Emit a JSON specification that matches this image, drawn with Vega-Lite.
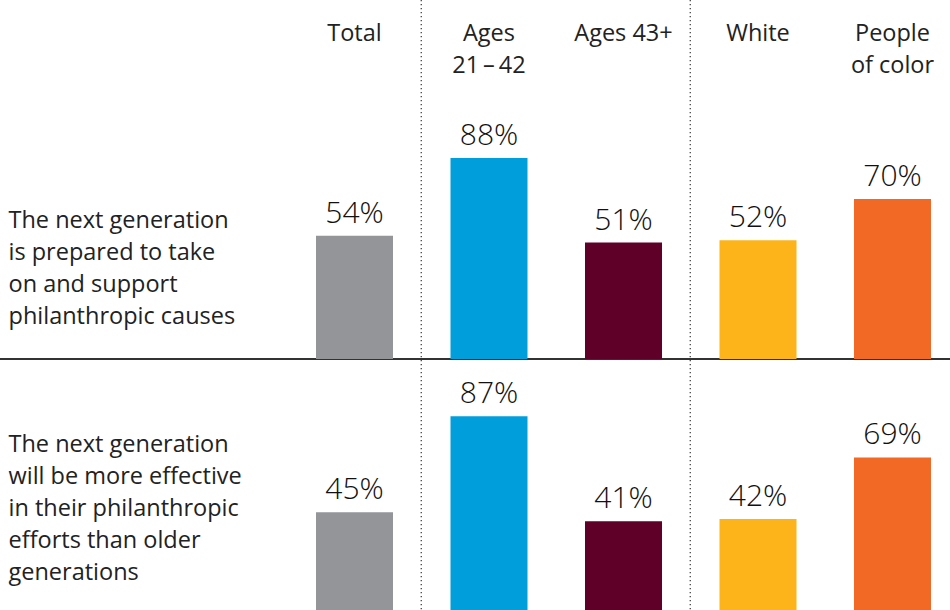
{
  "$schema": "https://vega.github.io/schema/vega-lite/v6.json",
  "width": 950,
  "height": 610,
  "padding": 0,
  "autosize": "none",
  "background": "white",
  "config": {"view": {"stroke": null}, "font": "Open Sans"},
  "datasets": {
    "bars": [
      {"statement": "prepared", "group": "Total", "share": 0.54},
      {"statement": "prepared", "group": "Ages 21 – 42", "share": 0.88},
      {"statement": "prepared", "group": "Ages 43+", "share": 0.51},
      {"statement": "prepared", "group": "White", "share": 0.52},
      {"statement": "prepared", "group": "People of color", "share": 0.70},
      {"statement": "effective", "group": "Total", "share": 0.45},
      {"statement": "effective", "group": "Ages 21 – 42", "share": 0.87},
      {"statement": "effective", "group": "Ages 43+", "share": 0.41},
      {"statement": "effective", "group": "White", "share": 0.42},
      {"statement": "effective", "group": "People of color", "share": 0.69}
    ],
    "separators": [
      {"group": "Total"},
      {"group": "Ages 43+"}
    ]
  },
  "layer": [
    {
      "data": {"name": "bars"},
      "transform": [{"filter": {"field": "statement", "equal": "prepared"}}],
      "mark": {"type": "rule", "color": "#333333", "strokeWidth": 1.3},
      "encoding": {
        "y": {"datum": 0, "type": "quantitative", "scale": {"domain": [-1.09895, 1.5718], "nice": false, "zero": false}, "axis": null}
      }
    },
    {
      "data": {"name": "separators"},
      "mark": {"type": "rule", "color": "#444444", "strokeWidth": 1.3, "strokeDash": [1.2, 2.8]},
      "encoding": {
        "x": {"field": "group", "type": "nominal", "bandPosition": 1.367, "axis": null}
      }
    },
    {
      "data": {"name": "bars"},
      "transform": [{"filter": {"field": "statement", "equal": "prepared"}}],
      "mark": {"type": "bar"},
      "encoding": {
        "x": {
          "field": "group",
          "type": "nominal",
          "scale": {
            "domain": ["Total", "Ages 21 – 42", "Ages 43+", "White", "People of color"],
            "range": [316, 931],
            "paddingInner": 0.4275,
            "paddingOuter": 0
          },
          "axis": {
            "orient": "top",
            "title": null,
            "domain": false,
            "ticks": false,
            "tickSize": 0,
            "labelAngle": 0,
            "labelBaseline": "top",
            "labelPadding": -21.7,
            "labelFont": "Open Sans",
            "labelFontSize": 23.5,
            "labelLineHeight": 32,
            "labelColor": "#222222",
            "labelLimit": 0,
            "labelExpr": "datum.label == 'Ages 21 – 42' ? ['Ages', '21\u2009–\u200942'] : datum.label == 'People of color' ? ['People', 'of color'] : datum.label"
          }
        },
        "y": {
          "field": "share",
          "type": "quantitative",
          "scale": {"domain": [-1.09895, 1.5718], "nice": false, "zero": false},
          "axis": {
            "orient": "left",
            "values": [0.6586],
            "title": null,
            "domain": false,
            "ticks": false,
            "tickSize": 0,
            "grid": false,
            "labelAlign": "left",
            "labelBaseline": "top",
            "labelPadding": -8,
            "labelFont": "Open Sans",
            "labelFontSize": 23.5,
            "labelLineHeight": 32,
            "labelColor": "#222222",
            "labelLimit": 0,
            "labelExpr": "['The next generation', 'is prepared to take', 'on and support', 'philanthropic causes']"
          }
        },
        "y2": {"datum": 0},
        "color": {
          "field": "group",
          "type": "nominal",
          "scale": {
            "domain": ["Total", "Ages 21 – 42", "Ages 43+", "White", "People of color"],
            "range": ["#939598", "#009EDB", "#5E0028", "#FDB41A", "#F26925"]
          },
          "legend": null
        }
      }
    },
    {
      "data": {"name": "bars"},
      "transform": [{"filter": {"field": "statement", "equal": "prepared"}}],
      "mark": {"type": "text", "baseline": "alphabetic", "dy": -13, "fontSize": 30, "fontWeight": 300, "color": "#111111"},
      "encoding": {
        "x": {"field": "group", "type": "nominal", "axis": null},
        "y": {"field": "share", "type": "quantitative", "scale": {"domain": [-1.09895, 1.5718], "nice": false, "zero": false}, "axis": null},
        "text": {"field": "share", "type": "quantitative", "format": ".0%"}
      }
    },
    {
      "data": {"name": "bars"},
      "transform": [{"filter": {"field": "statement", "equal": "effective"}}],
      "mark": {"type": "bar", "clip": true},
      "encoding": {
        "x": {"field": "group", "type": "nominal", "axis": null},
        "y": {
          "field": "share",
          "type": "quantitative",
          "scale": {"domain": [0.02189, 2.69264], "nice": false, "zero": false},
          "axis": {
            "orient": "right",
            "values": [0.7999],
            "title": null,
            "domain": false,
            "ticks": false,
            "tickSize": 0,
            "grid": false,
            "labelAlign": "left",
            "labelBaseline": "top",
            "labelPadding": -942,
            "labelFont": "Open Sans",
            "labelFontSize": 23.5,
            "labelLineHeight": 32,
            "labelColor": "#222222",
            "labelLimit": 0,
            "labelExpr": "['The next generation', 'will be more effective', 'in their philanthropic', 'efforts than older', 'generations']"
          }
        },
        "y2": {"datum": 0},
        "color": {"field": "group", "type": "nominal", "legend": null}
      }
    },
    {
      "data": {"name": "bars"},
      "transform": [{"filter": {"field": "statement", "equal": "effective"}}],
      "mark": {"type": "text", "baseline": "alphabetic", "dy": -13, "fontSize": 30, "fontWeight": 300, "color": "#111111"},
      "encoding": {
        "x": {"field": "group", "type": "nominal", "axis": null},
        "y": {"field": "share", "type": "quantitative", "scale": {"domain": [0.02189, 2.69264], "nice": false, "zero": false}, "axis": null},
        "text": {"field": "share", "type": "quantitative", "format": ".0%"}
      }
    }
  ],
  "resolve": {"scale": {"y": "independent"}, "axis": {"x": "independent", "y": "independent"}}
}
